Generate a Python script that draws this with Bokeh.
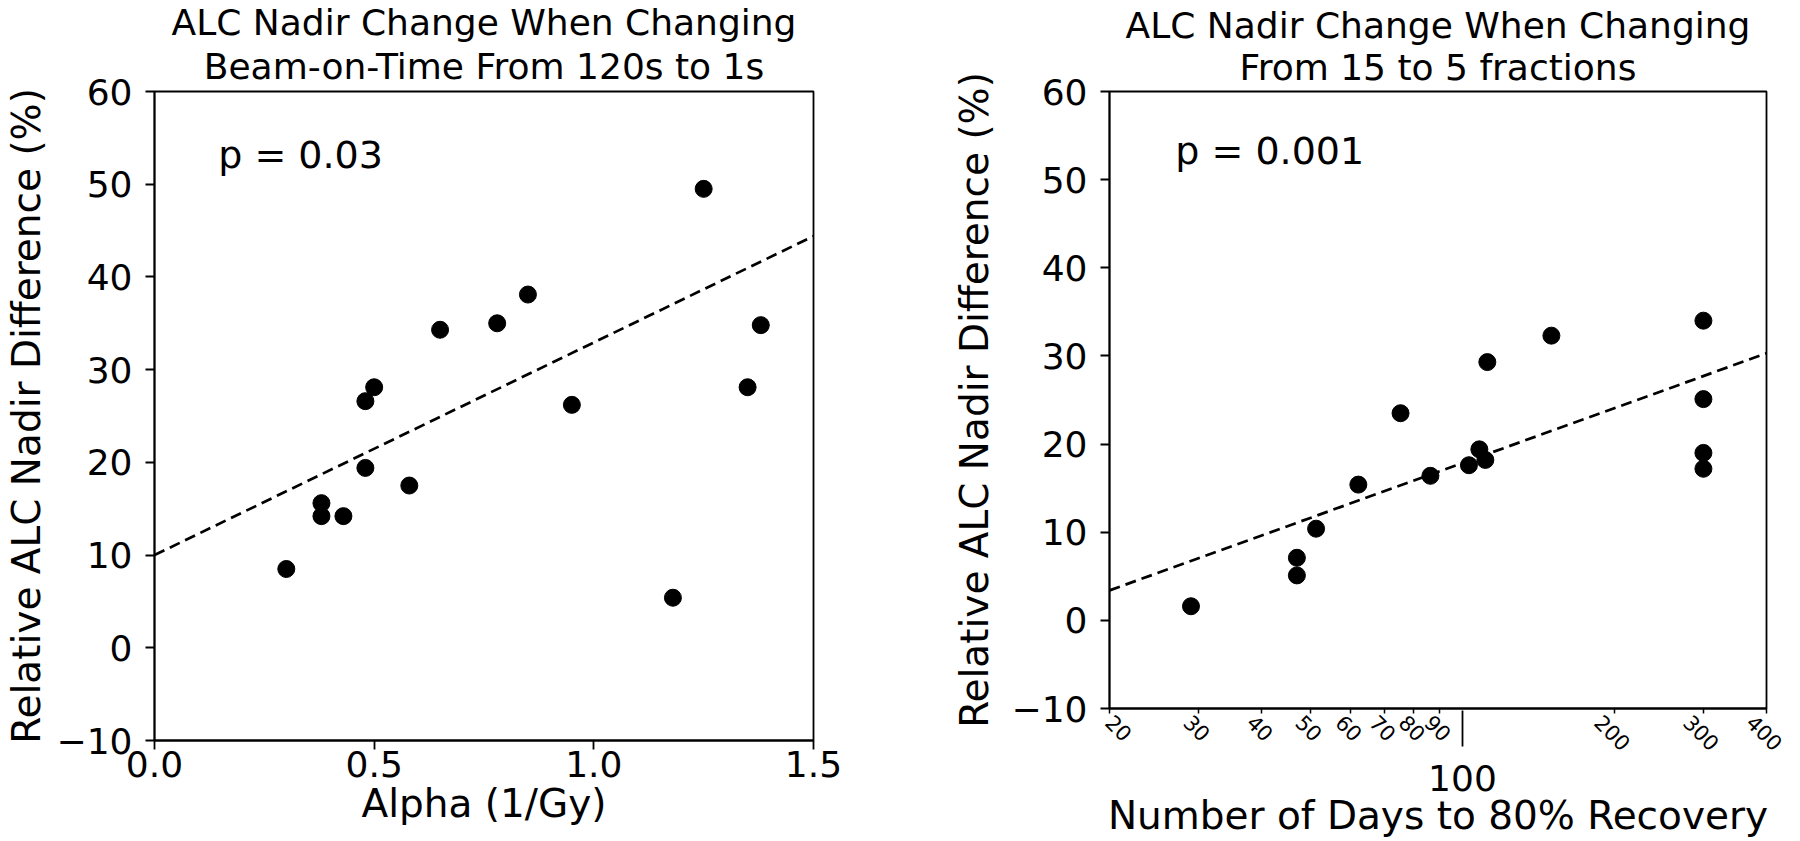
import math

from bokeh.embed import file_html
from bokeh.layouts import row
from bokeh.models import FixedTicker, Label, LogAxis, Range1d, Title
from bokeh.plotting import figure
from bokeh.resources import INLINE

FONT = "DejaVu Sans"

# left panel: relative ALC nadir difference vs alpha
alpha = [0.30, 0.38, 0.38, 0.43, 0.48, 0.48, 0.50, 0.58, 0.65, 0.78, 0.85, 0.95, 1.18, 1.25, 1.35, 1.38]
alpha_diff = [8.5, 15.6, 14.2, 14.2, 19.4, 26.6, 28.1, 17.5, 34.3, 35.0, 38.1, 26.2, 5.4, 49.5, 28.1, 34.8]
alpha_fit_x = [0.0, 1.5]
alpha_fit_y = [10.0, 44.4]

# right panel: relative ALC nadir difference vs days to 80% recovery
days = [29, 47, 47, 51.3, 62.2, 75.4, 86.4, 103, 108, 111, 112, 150, 300, 300, 300, 300]
days_diff = [1.6, 7.1, 5.1, 10.4, 15.4, 23.5, 16.4, 17.6, 19.4, 18.2, 29.3, 32.3, 34.0, 25.1, 19.0, 17.2]
days_fit_x = [20, 400]
days_fit_y = [3.4, 30.3]

y_ticks = [-10, 0, 10, 20, 30, 40, 50, 60]
alpha_ticks = [0.0, 0.5, 1.0, 1.5]
alpha_tick_labels = ["0.0", "0.5", "1.0", "1.5"]
days_small_ticks = [20, 30, 40, 50, 60, 70, 80, 90, 200, 300, 400]
days_big_ticks = [100]

titles = [
    ("ALC Nadir Change When Changing", "Beam-on-Time From 120s to 1s"),
    ("ALC Nadir Change When Changing", "From 15 to 5 fractions"),
]
p_values = ["p = 0.03", "p = 0.001"]


def style_axis(ax, tick_out, standoff, label_standoff):
    ax.axis_line_width = 1.8
    ax.axis_line_color = "black"
    ax.major_tick_out = tick_out
    ax.major_tick_in = 0
    ax.minor_tick_out = 0
    ax.minor_tick_in = 0
    ax.major_tick_line_width = 1.8
    ax.major_tick_line_color = "black"
    ax.major_label_standoff = standoff
    ax.major_label_text_font = FONT
    ax.major_label_text_font_size = "36px"
    ax.major_label_text_color = "black"
    ax.axis_label_text_font = FONT
    ax.axis_label_text_font_size = "39px"
    ax.axis_label_text_font_style = "normal"
    ax.axis_label_text_color = "black"
    ax.axis_label_standoff = label_standoff


def style_common(p, title_lines, ylabel_standoff, title_standoff):
    p.xgrid.grid_line_color = None
    p.ygrid.grid_line_color = None
    p.outline_line_color = "black"
    p.outline_line_width = 1.8
    p.outline_line_alpha = 1.0
    p.background_fill_color = "white"
    p.border_fill_color = "white"

    p.yaxis.ticker = FixedTicker(ticks=y_ticks)
    p.yaxis.major_label_overrides = {t: str(t).replace("-", "\u2212") for t in y_ticks}
    p.yaxis.axis_label = "Relative ALC Nadir Difference (%)"
    for ax in p.yaxis:
        style_axis(ax, 9, 13, ylabel_standoff)

    # two-line title, lower line first
    line1, line2 = title_lines
    p.add_layout(Title(text=line2, align="center", text_font=FONT, text_font_size="36px",
                       text_font_style="normal", text_color="black", standoff=title_standoff), "above")
    p.add_layout(Title(text=line1, align="center", text_font=FONT, text_font_size="36px",
                       text_font_style="normal", text_color="black", standoff=-9), "above")


# ---- left panel
p1 = figure(frame_width=659, frame_height=649, min_border_left=149, min_border_right=134,
            min_border_top=86, min_border_bottom=98,
            x_range=Range1d(0, 1.5), y_range=Range1d(-10, 60),
            output_backend="svg", toolbar_location=None)
style_common(p1, titles[0], ylabel_standoff=5, title_standoff=10)
p1.xaxis.ticker = FixedTicker(ticks=alpha_ticks)
p1.xaxis.major_label_overrides = dict(zip(alpha_ticks, alpha_tick_labels))
p1.xaxis.axis_label = "Alpha (1/Gy)"
for ax in p1.xaxis:
    style_axis(ax, 9, 1, 1)

p1.line(alpha_fit_x, alpha_fit_y, line_color="black", line_width=2.7, line_dash="11 6")
p1.scatter(alpha, alpha_diff, size=17, fill_color="black", line_color="black")
p1.add_layout(Label(x=0.145, y=53.2, text=p_values[0], text_font=FONT, text_font_size="38px",
                    text_color="black", text_baseline="alphabetic"))

# ---- right panel (log x)
FRAME_W2 = 657
p2 = figure(frame_width=FRAME_W2, frame_height=617, min_border_left=162, min_border_right=23,
            min_border_top=91, min_border_bottom=125,
            x_axis_type="log", x_axis_location=None,
            x_range=Range1d(20, 400), y_range=Range1d(-10, 60),
            output_backend="svg", toolbar_location=None)
style_common(p2, titles[1], ylabel_standoff=12, title_standoff=7)

# inner axis: short ticks plus the small rotated labels; Bokeh starts a
# clockwise label at its tick, so each label is nudged left to sit centred
# (the first one stays put, a tick left of the range would not be drawn)
SMALL_FONT = 21
px_per_decade = FRAME_W2 / math.log10(400 / 20)
label_pos = {}
for t in days_small_ticks:
    shift = 0.4 * len(str(t)) * 0.636 * SMALL_FONT if t > days_small_ticks[0] else 0
    label_pos[round(t * 10 ** (-shift / px_per_decade), 3)] = str(t)
L_STANDOFF = 5
L_EXTENT = 51
small_axis = LogAxis(ticker=FixedTicker(ticks=list(label_pos), minor_ticks=days_small_ticks),
                     major_label_overrides=label_pos)
small_axis.axis_line_width = 1.8
small_axis.axis_line_color = "black"
small_axis.major_tick_out = 0
small_axis.major_tick_in = 0
small_axis.major_tick_line_color = None
small_axis.minor_tick_out = 5
small_axis.minor_tick_in = 0
small_axis.minor_tick_line_width = 1.5
small_axis.minor_tick_line_color = "black"
small_axis.major_label_orientation = -math.pi / 4
small_axis.major_label_standoff = L_STANDOFF
small_axis.major_label_text_font = FONT
small_axis.major_label_text_font_size = f"{SMALL_FONT}px"
small_axis.major_label_text_color = "black"
p2.add_layout(small_axis, "below")

# outer axis: the long 100 tick reaching up to the frame, its label, and the title
days_axis = LogAxis(ticker=FixedTicker(ticks=days_big_ticks, minor_ticks=[]),
                    major_label_overrides={t: str(t) for t in days_big_ticks},
                    axis_label="Number of Days to 80% Recovery")
style_axis(days_axis, -(L_EXTENT - 36), 3, -1)
days_axis.axis_line_color = None
days_axis.major_tick_in = L_EXTENT
p2.add_layout(days_axis, "below")

p2.line(days_fit_x, days_fit_y, line_color="black", line_width=2.7, line_dash="11 6")
p2.scatter(days, days_diff, size=17, fill_color="black", line_color="black")
p2.add_layout(Label(x=27, y=53.2, text=p_values[1], text_font=FONT, text_font_size="38px",
                    text_color="black", text_baseline="alphabetic"))

layout = row(p1, p2)
open("out.html", "w").write(file_html(layout, INLINE))
